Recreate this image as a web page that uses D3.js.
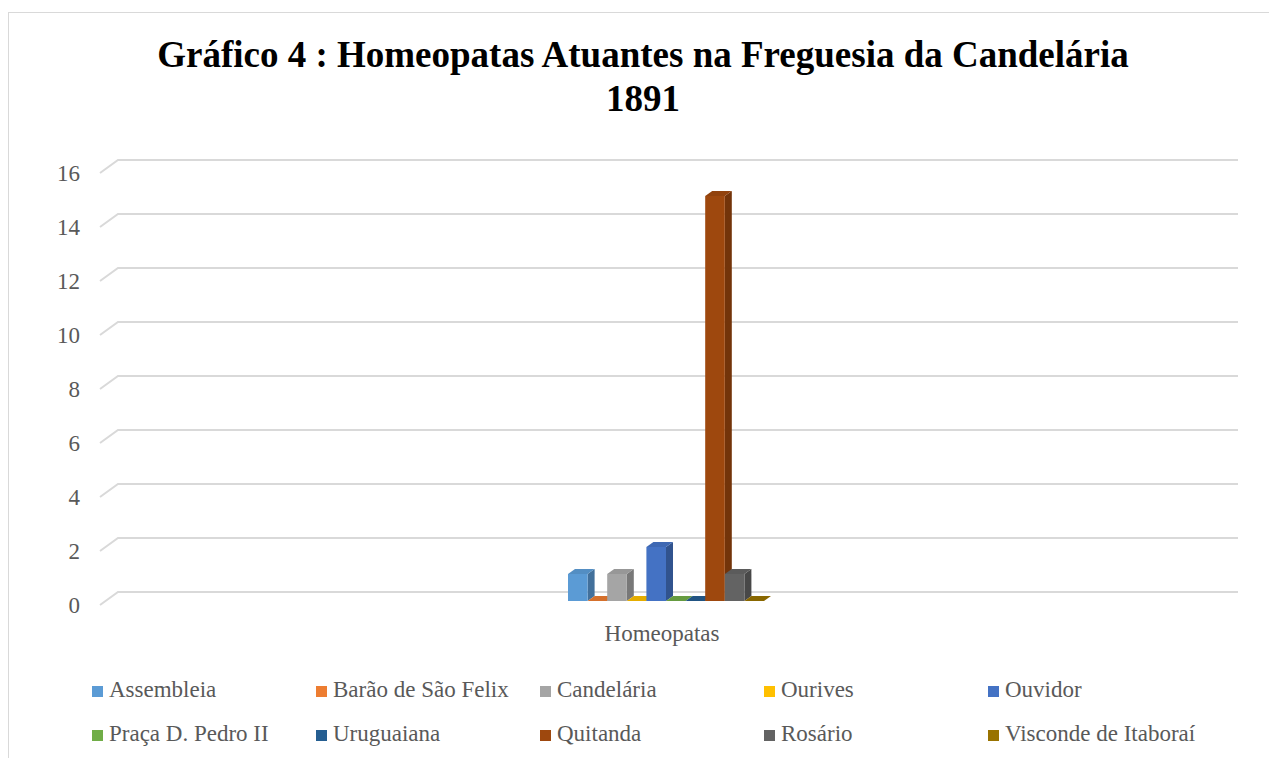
<!DOCTYPE html>
<html>
<head>
<meta charset="utf-8">
<script src="https://cdn.jsdelivr.net/npm/d3@7"></script>
<style>
  body { margin: 0; background: #fff; }
  svg { display: block; }
  text { font-family: "Liberation Serif", "Times New Roman", serif; }
</style>
</head>
<body>
<div id="chart"></div>
<script>
// data
const categories = ['Homeopatas']
const series = ['Assembleia', 'Barão de São Felix', 'Candelária', 'Ourives', 'Ouvidor',
                'Praça D. Pedro II', 'Uruguaiana', 'Quitanda', 'Rosário', 'Visconde de Itaboraí']
const values = [1, 0, 1, 0, 2, 0, 0, 15, 1, 0]
const colors = ['#5B9BD5', '#ED7D31', '#A5A5A5', '#FFC000', '#4472C4',
                '#70AD47', '#255E91', '#9E480E', '#636363', '#997300']
const yTicks = [0, 2, 4, 6, 8, 10, 12, 14, 16]

const width = 1269, height = 758
const wall = { dx: 18, dy: -13 }   // depth of the back wall
const shift = { dx: 6, dy: -4 }    // bars sit a bit inside the depth
const depth = { dx: 7, dy: -5 }    // depth of each bar

const svg = d3.select('#chart').append('svg')
    .attr('width', width)
    .attr('height', height)

// frame
svg.append('rect')
    .attr('x', 8.5).attr('y', 12.5)
    .attr('width', width + 10).attr('height', height + 10)
    .attr('fill', 'none').attr('stroke', '#D9D9D9')

// title
svg.append('text')
    .attr('x', 643).attr('y', 67)
    .attr('text-anchor', 'middle')
    .style('font-size', '37px').style('font-weight', 'bold').attr('fill', '#000')
    .text('Gráfico 4 : Homeopatas Atuantes na Freguesia da Candelária')
svg.append('text')
    .attr('x', 643).attr('y', 111)
    .attr('text-anchor', 'middle')
    .style('font-size', '37px').style('font-weight', 'bold').attr('fill', '#000')
    .text('1891')

const y = d3.scaleLinear().domain([0, 16]).range([605, 173])
const x = d3.scaleBand().domain(categories).range([100, 1220])
const xs = d3.scaleBand().domain(series)
    .range([x('Homeopatas') + x.bandwidth() / 2 - 98, x('Homeopatas') + x.bandwidth() / 2 + 98])

// gridlines, 3d style
const grid = svg.append('g').attr('class', 'grid')
grid.selectAll('path')
    .data(yTicks)
    .enter()
    .append('path')
        .attr('d', d => `M100,${y(d)} L${100 + wall.dx},${y(d) + wall.dy} L1238,${y(d) + wall.dy}`)
        .attr('fill', 'none')
        .attr('stroke', '#D9D9D9')
        .attr('stroke-width', 2)

// y labels
svg.append('g').selectAll('text')
    .data(yTicks)
    .enter()
    .append('text')
        .attr('x', 80)
        .attr('y', d => y(d))
        .attr('dy', '0.35em')
        .attr('text-anchor', 'end')
        .style('font-size', '23px')
        .attr('fill', '#595959')
        .text(d => d)

// category label
svg.append('text')
    .attr('x', x('Homeopatas') + x.bandwidth() / 2 + 2)
    .attr('y', 641)
    .attr('text-anchor', 'middle')
    .style('font-size', '23px')
    .attr('fill', '#595959')
    .text('Homeopatas')

// bars
const bars = svg.append('g').attr('class', 'bars')
series.forEach((s, i) => {
    const x0 = xs(s) + shift.dx
    const x1 = x0 + xs.bandwidth()
    const yb = y(0) + shift.dy
    const yt = y(values[i]) + shift.dy
    const c = d3.color(colors[i])
    const g = bars.append('g')
    // right side
    g.append('path')
        .attr('d', `M${x1},${yb} L${x1 + depth.dx},${yb + depth.dy} L${x1 + depth.dx},${yt + depth.dy} L${x1},${yt} Z`)
        .attr('fill', c.darker(0.9))
    // top
    g.append('path')
        .attr('d', `M${x0},${yt} L${x0 + depth.dx},${yt + depth.dy} L${x1 + depth.dx},${yt + depth.dy} L${x1},${yt} Z`)
        .attr('fill', values[i] ? c.darker(0.25) : c.darker(0.3))
    // front
    if (values[i] > 0) {
        g.append('rect')
            .attr('x', x0).attr('y', yt)
            .attr('width', xs.bandwidth()).attr('height', yb - yt)
            .attr('fill', c)
    }
})

// legend
const legend = svg.append('g').attr('class', 'legend')
const item = legend.selectAll('g')
    .data(series)
    .enter()
    .append('g')
        .attr('transform', (d, i) => `translate(${92 + (i % 5) * 224},${i < 5 ? 697 : 741})`)
item.append('rect')
    .attr('x', 0).attr('y', -11)
    .attr('width', 11).attr('height', 11)
    .attr('fill', (d, i) => colors[i])
item.append('text')
    .attr('x', 17).attr('y', 0)
    .style('font-size', '23px')
    .attr('fill', '#595959')
    .text(d => d)
</script>
</body>
</html>
